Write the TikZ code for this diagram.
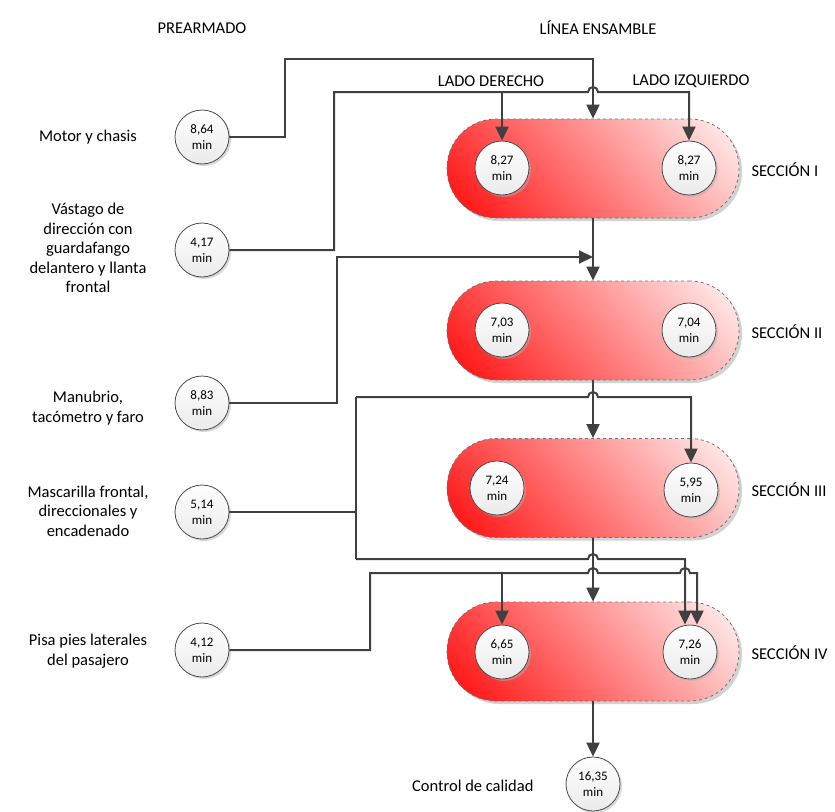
\documentclass[tikz,border=0pt]{standalone}
\usepackage{fontspec}
\setmainfont{Carlito}
\usetikzlibrary{arrows.meta,shadows}
\begin{document}
\begin{tikzpicture}[x=1pt,y=-1pt,
                line/.style = {line width=2pt,draw=black!75},
                arrow/.style = {line,-{Triangle[width=13pt,length=14pt]}},
                pill/.style = {draw=black!55,dashed,line width=0.8pt,
                    minimum width=292pt,minimum height=99pt,rounded corners=49pt,
                    path picture={\shade[left color=red,middle color=red!50!white,
                        right color=white,shading angle=132]
                        ([shift={(-152pt,-152pt)}]path picture bounding box.center) rectangle
                        ([shift={(152pt,152pt)}]path picture bounding box.center);},
                    drop shadow={shadow xshift=3pt,shadow yshift=-3pt,fill=black!35}},
                time/.style = {circle,draw=black!70,line width=0.8pt,minimum size=54pt,
                    inner sep=0pt,top color=white,bottom color=black!8,align=center,
                    font=\fontsize{13}{16}\selectfont,
                    drop shadow={shadow xshift=2pt,shadow yshift=-2pt,fill=black!30}},
                txt/.style = {align=center,font=\fontsize{16.5}{19.5}\selectfont}]
                \useasboundingbox (0,0) rectangle (835,811);

                \node[txt] (h1) at (202,28) {PREARMADO};
                \node[txt] (h2) at (598,28) {LÍNEA ENSAMBLE};
                \node[txt] (h3) at (491,81) {LADO DERECHO};
                \node[txt] (h4) at (691,81) {LADO IZQUIERDO};

                \node[pill] (s1) at (593,168.5) {};
                \node[pill] (s2) at (593,330.5) {};
                \node[pill] (s3) at (593,488) {};
                \node[pill] (s4) at (593,651.5) {};

                \node[txt,anchor=west] (n1) at (748,170) {SECCIÓN I};
                \node[txt,anchor=west] (n2) at (748,332) {SECCIÓN II};
                \node[txt,anchor=west] (n3) at (748,490) {SECCIÓN III};
                \node[txt,anchor=west] (n4) at (748,653) {SECCIÓN IV};

                \node[time] (l1) at (502,168) {8,27\\min};
                \node[time] (r1) at (689,168) {8,27\\min};
                \node[time] (l2) at (502,330) {7,03\\min};
                \node[time] (r2) at (689,330) {7,04\\min};
                \node[time] (l3) at (497,488) {7,24\\min};
                \node[time] (r3) at (691,490) {5,95\\min};
                \node[time] (l4) at (502,652) {6,65\\min};
                \node[time] (r4) at (690,652) {7,26\\min};

                \node[time] (p1) at (202,137) {8,64\\min};
                \node[time] (p2) at (202,250) {4,17\\min};
                \node[time] (p3) at (202,403) {8,83\\min};
                \node[time] (p4) at (202,512) {5,14\\min};
                \node[time] (p5) at (202,650) {4,12\\min};
                \node[time] (q) at (593,784) {16,35\\min};

                \node[txt] (t1) at (88,137) {Motor y chasis};
                \node[txt] (t2) at (88,248) {Vástago de\\dirección con\\guardafango\\delantero y llanta\\frontal};
                \node[txt] (t3) at (88,408) {Manubrio,\\tacómetro y faro};
                \node[txt] (t4) at (88,511) {Mascarilla frontal,\\direccionales y\\encadenado};
                \node[txt] (t5) at (88,651) {Pisa pies laterales\\del pasajero};
                \node[txt,anchor=east] (t6) at (537,786) {Control de calidad};

                \coordinate (k1) at (356,397);
                \coordinate (k2) at (356,559);

                \draw[arrow] (p1.east) -| (285,59) -| (s1.north);
                \draw[arrow] (p2.east) -| (334,92) -- (588,92)
                    arc[start angle=180,end angle=0,radius=5pt] -| (r1.north);
                \draw[arrow] (l1.north |- 0,92) -- (l1.north);

                \draw[arrow] (s1.south) -- (s2.north);
                \draw[arrow] (p3.east) -| (337,257) -- (s1.south |- 0,257);

                \draw[arrow] (s2.south) -- (s3.north);
                \draw[line] (k1) -- (k2);
                \draw[line] (p4.east) -- (p4.east -| k1);
                \draw[arrow] (k1) -- (588,397)
                    arc[start angle=180,end angle=0,radius=5pt] -| (r3.north);

                \draw[arrow] (s3.south) -- (s4.north);
                \draw[arrow] (k2) -- (588,559)
                    arc[start angle=180,end angle=0,radius=5pt] -| ([xshift=-5pt]r4.north);
                \draw[arrow] (p5.east) -| (370,573) -- (588,573)
                    arc[start angle=180,end angle=0,radius=5pt] -- (680,573)
                    arc[start angle=180,end angle=0,radius=5pt] -| ([xshift=7pt]r4.north);
                \draw[arrow] (l4.north |- 0,573) -- (l4.north);

                \draw[arrow] (s4.south) -- (q.north);
\end{tikzpicture}
\end{document}
